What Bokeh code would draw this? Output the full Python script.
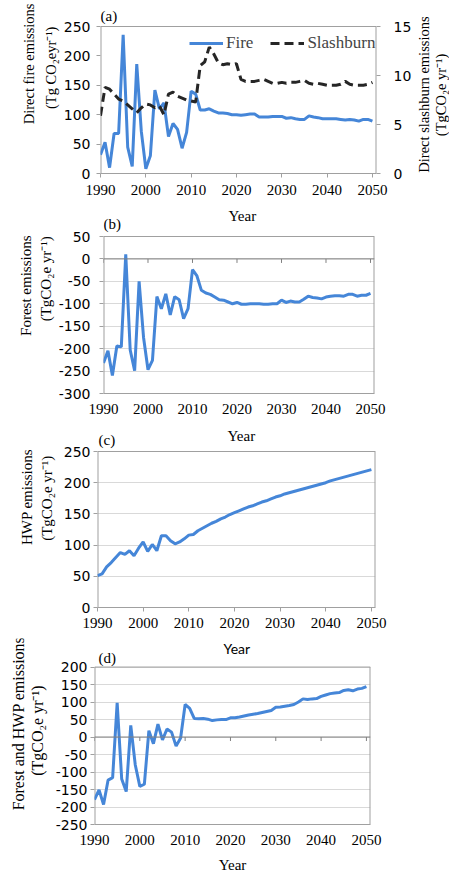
import numpy as np
from bokeh.plotting import figure
from bokeh.models import (Range1d, LinearAxis, Label, Legend, LegendItem, FixedTicker,
                          Span, CustomJSTickFormatter)
from bokeh.layouts import column, row
from bokeh.embed import file_html
from bokeh.resources import INLINE
from bokeh.core.properties import value

years = list(range(1990, 2051))
x_ticks = [1990, 2000, 2010, 2020, 2030, 2040, 2050]

fire = [32, 53, 10, 68, 68, 236, 45, 12, 186, 72,
        8, 30, 142, 110, 120, 63, 85, 75, 43, 70,
        140, 135, 108, 108, 110, 106, 103, 103, 102, 100,
        100, 99, 100, 101, 101, 96, 96, 96, 97, 97,
        97, 94, 95, 93, 92, 92, 98, 96, 95, 93,
        93, 93, 93, 92, 91, 92, 91, 89, 92, 92,
        89]
slashburn = [5.9, 8.8, 8.6, 8.1, 7.6, 7.4, 7.0, 6.6, 6.2, 6.7,
             7.1, 7.0, 6.7, 6.9, 6.0, 8.1, 8.3, 7.9, 7.7, 7.5,
             7.4, 7.3, 11.0, 11.4, 12.9, 12.2, 11.3, 11.1, 11.2, 11.1,
             11.2, 9.6, 9.4, 9.4, 9.4, 9.5, 9.6, 9.4, 9.2, 9.2,
             9.3, 9.2, 9.3, 9.3, 9.4, 9.5, 9.2, 9.1, 9.2, 9.1,
             9.0, 9.0, 9.0, 9.1, 9.4, 9.1, 9.0, 9.0, 9.0, 9.1,
             9.3]
forest = [-232, -205, -260, -194, -196, 10, -203, -249, -50, -175,
          -247, -226, -84, -111, -78, -125, -84, -91, -133, -111,
          -24, -38, -70, -76, -79, -85, -91, -92, -96, -100,
          -97, -101, -101, -100, -100, -100, -101, -101, -100, -100,
          -92, -97, -94, -96, -96, -90, -83, -86, -87, -89,
          -85, -83, -82, -82, -83, -79, -79, -83, -81, -81,
          -77]
hwp = [51, 54, 65, 72, 80, 88, 85, 91, 83, 95,
       105, 90, 101, 91, 115, 115, 107, 102, 105, 110,
       116, 117, 123, 127, 131, 135, 138, 142, 145, 149,
       152, 155, 158, 161, 163, 166, 169, 171, 174, 177,
       179, 182, 184, 186, 188, 190, 192, 194, 196, 198,
       200, 203, 205, 207, 209, 211, 213, 215, 217, 219,
       221]
forest_hwp = [-179, -151, -193, -123, -116, 98, -120, -156, 33, -80,
              -141, -135, 18, -19, 37, -8, 23, 14, -26, -3,
              93, 82, 53, 52, 53, 51, 47, 49, 50, 50,
              55, 55, 57, 60, 63, 65, 67, 70, 73, 76,
              85, 86, 88, 90, 93, 100, 109, 107, 109, 110,
              116, 120, 124, 126, 127, 133, 135, 132, 137, 139,
              144]

yticks_a = [0, 50, 100, 150, 200, 250]
yticks_a_right = [0, 5, 10, 15]
yticks_b = [-300, -250, -200, -150, -100, -50, 0, 50]
yticks_c = [0, 50, 100, 150, 200, 250]
yticks_d = [-250, -200, -150, -100, -50, 0, 50, 100, 150, 200]

unit = "(TgCO\u2082e yr\u207b\u00b9)"
titles_a = ["Direct fire emissions", "(Tg CO\u2082eyr\u207b\u00b9)"]
titles_a_right = ["Direct slashburn emissions", unit]
titles_b = ["Forest emissions", unit]
titles_c = ["HWP emissions", unit]
titles_d = ["Forest and HWP emissions", unit]

X0, X1 = 1990, 2050.9
BLUE = "#4586d8"
DARK = "#262626"
FRAME = "#a0a0a0"
ZERO = "#808080"
GRID = "#d9d9d9"
SERIF = "Liberation Serif"
SANS = "DejaVu Sans"
ROT = np.pi / 2
FMT = CustomJSTickFormatter(code="return String(tick)")


def ext_end(lo, hi, pad_px, data_px):
    return hi + pad_px * (hi - lo) / data_px


def text_fig(w, h, xs, ys, texts, size):
    # rotated titles, each line its own glyph, anchored at its start (bottom end)
    p = figure(width=w, height=h, x_range=Range1d(0, w), y_range=Range1d(0, h),
               output_backend="svg", toolbar_location=None, x_axis_type=None,
               y_axis_type=None, min_border_left=0, min_border_right=0,
               min_border_top=0, min_border_bottom=0)
    p.outline_line_color = None
    for xi, yi, ti in zip(xs, ys, texts):
        p.text(x=[xi], y=[yi], text=[ti], angle=ROT, text_align="left",
               text_baseline="middle", text_font=value(SERIF),
               text_font_size=value(size), text_color="black")
    return p


def lab(p, x, y, text, font=SERIF, size="15px"):
    p.add_layout(Label(x=x, y=y, x_units="screen", y_units="screen", text=text,
                       text_font=font, text_font_size=size,
                       text_align="left", text_baseline="middle", text_color="black"))


def main_fig(w, h, ylo, yhi, yticks, ml, mr, mb, pad_top, grid=True):
    data_px = h - mb - pad_top
    p = figure(width=w, height=h, x_range=Range1d(X0, X1),
               y_range=Range1d(ylo, ext_end(ylo, yhi, pad_top, data_px)),
               output_backend="svg", toolbar_location=None,
               min_border_left=ml, min_border_right=mr, min_border_top=0,
               min_border_bottom=mb)
    p.outline_line_color = None
    p.xgrid.grid_line_color = None
    p.ygrid.grid_line_color = GRID if grid else None
    p.ygrid.ticker = FixedTicker(ticks=yticks)
    p.xaxis.ticker = FixedTicker(ticks=x_ticks)
    p.yaxis.ticker = FixedTicker(ticks=yticks)
    p.yaxis.formatter = FMT
    p.xaxis.formatter = FMT
    for ax in (p.xaxis[0], p.yaxis[0]):
        ax.axis_line_color = FRAME
        ax.major_tick_line_color = FRAME
        ax.minor_tick_line_color = None
        ax.major_tick_in = 0
        ax.major_tick_out = 4
    p.yaxis.axis_line_color = None
    p.xaxis.major_label_text_font = SERIF
    p.xaxis.major_label_text_font_size = "15px"
    p.xaxis.major_label_text_color = "black"
    p.yaxis.major_label_text_font = SANS
    p.yaxis.major_label_text_font_size = "14px"
    p.yaxis.major_label_text_color = "black"
    p.segment(x0=[X0, X1], y0=[ylo, ylo], x1=[X0, X1], y1=[yhi, yhi],
              line_color=FRAME, line_width=2)
    p.segment(x0=[X0], y0=[yhi], x1=[X1], y1=[yhi], line_color=FRAME, line_width=1)
    return p


def zero_axis(p):
    p.add_layout(Span(location=0, dimension="width", line_color=ZERO, line_width=1))
    p.ray(x=x_ticks, y=[0] * len(x_ticks), length=4, length_units="screen",
          angle=-np.pi / 2, line_color=ZERO, line_width=1)
    p.xaxis.major_tick_line_color = None
    p.xaxis.major_tick_out = 0


# ---------------- band (a) ----------------
la = text_fig(60, 204, [28, 50], [58, 76], titles_a, "14.5px")

pa = main_fig(354, 204, 0, 250, yticks_a, 40, 37, 31, 26, grid=False)
pa.extra_y_ranges = {"right": Range1d(0, ext_end(0, 15, 26, 204 - 31 - 26))}
rax = LinearAxis(y_range_name="right", ticker=FixedTicker(ticks=yticks_a_right),
                 formatter=FMT)
rax.axis_line_color = None
rax.major_tick_line_color = FRAME
rax.minor_tick_line_color = None
rax.major_tick_in = 0
rax.major_tick_out = 4
rax.major_label_standoff = 13
rax.major_label_text_font = SANS
rax.major_label_text_font_size = "14px"
rax.major_label_text_color = "black"
pa.add_layout(rax, "right")
pa.yaxis[0].major_label_standoff = 6
pa.xaxis.major_label_standoff = 7
r_fire = pa.line(years, fire, line_color=BLUE, line_width=3)
r_slash = pa.line(years, slashburn, y_range_name="right", line_color=DARK,
                  line_width=3, line_dash="9 5")
leg = Legend(items=[LegendItem(label="Fire", renderers=[r_fire]),
                    LegendItem(label="Slashburn", renderers=[r_slash])],
             location=(89, 120), orientation="horizontal", padding=0, margin=0,
             spacing=17, glyph_width=34, label_standoff=3,
             border_line_color=None, background_fill_alpha=0,
             label_text_font=SERIF, label_text_font_size="17px")
pa.add_layout(leg)
lab(pa, 0, 158, "(a)")

ra = text_fig(35, 204, [9, 26], [1, 44], titles_a_right, "14.5px")

# ---------------- band (b) ----------------
lb = text_fig(55, 220, [25, 45], [67, 84], titles_b, "15px")

pb = main_fig(394, 220, -300, 50, yticks_b, 47, 75, 31, 32)
pb.yaxis.major_label_standoff = 9
pb.xaxis.major_label_standoff = 10
zero_axis(pb)
pb.line(years, forest, line_color=BLUE, line_width=3)
lab(pb, 125, 178, "Year")
lab(pb, 0, 170, "(b)")

# ---------------- band (c) ----------------
lc = text_fig(58, 214, [26, 46], [73, 78], titles_c, "15px")

pc = main_fig(391, 214, 0, 250, yticks_c, 39, 74, 31, 27)
pc.yaxis.major_label_standoff = 3
pc.xaxis.major_label_standoff = 6
pc.line(years, hwp, line_color=BLUE, line_width=3)
lab(pc, 130, 172, "Year")
lab(pc, 1, 168, "(c)")

# ---------------- band (d) ----------------
ld = text_fig(50, 237, [18, 37], [18, 62], titles_d, "16px")

pd_ = main_fig(399, 237, -250, 200, yticks_d, 44, 79, 48, 29)
pd_.yaxis.major_label_standoff = 3
pd_.xaxis.major_label_standoff = 10
zero_axis(pd_)
pd_.xaxis.axis_label = "Year"
pd_.xaxis.axis_label_standoff = 9
pd_.xaxis.axis_label_text_font = SERIF
pd_.xaxis.axis_label_text_font_size = "15px"
pd_.xaxis.axis_label_text_font_style = "normal"
pd_.xaxis.axis_label_text_color = "black"
pd_.line(years, forest_hwp, line_color=BLUE, line_width=3)
lab(pd_, 129, 176, "Year", font="Lato", size="14px")
lab(pd_, 4, 167, "(d)")

layout = column(row(la, pa, ra, spacing=0), row(lb, pb, spacing=0),
                row(lc, pc, spacing=0), row(ld, pd_, spacing=0), spacing=0)
open("out.html", "w").write(file_html(layout, INLINE))
